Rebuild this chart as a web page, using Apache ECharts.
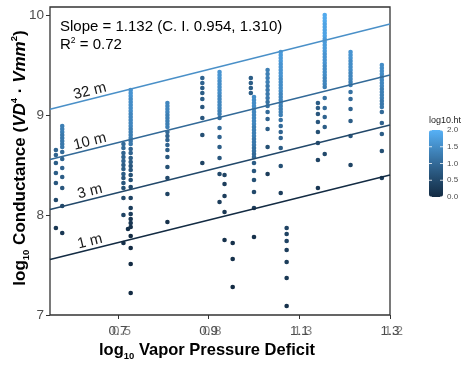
<!DOCTYPE html>
<html>
<head>
<meta charset="utf-8">
<script src="https://cdn.jsdelivr.net/npm/echarts@6/dist/echarts.min.js"></script>
<style>
  html, body { margin: 0; padding: 0; background: #fff; }
  #chart { width: 461px; height: 370px; }
</style>
</head>
<body>
<div id="chart"></div>
<script>
// axis ticks
const xTicks = [0.7, 0.9, 1.1, 1.3];
const xTickLabels = ['0.7', '0.9', '1.1', '1.3'];
const xTickLabelsUnder = ['0.5', '0.8', '1.3', '1.2'];
const yTicks = [7, 8, 9, 10];
const legendTicks = ['0.0', '0.5', '1.0', '1.5', '2.0'];

// one entry per column of trees: x (log10 VPD), y (log10 conductance), h (log10.ht)
const colX = [0.563, 0.577, 0.712, 0.728, 0.722, 0.809, 0.886, 0.924, 0.935, 0.953,
  0.993, 1.0, 1.030, 1.059, 1.072, 1.141, 1.156, 1.213, 1.282];
const colY = [
  [8.65, 8.60, 8.52, 8.42, 8.32, 8.15, 7.87],
  [8.89, 8.86, 8.83, 8.80, 8.77, 8.74, 8.71, 8.68, 8.63, 8.56, 8.47, 8.38, 8.27, 8.09, 7.82],
  [8.71, 8.67, 8.62, 8.58, 8.54, 8.50, 8.46, 8.41, 8.37, 8.32, 8.27, 8.17, 8.00, 7.72],
  [9.25, 9.22, 9.19, 9.16, 9.13, 9.10, 9.07, 9.04, 9.01, 8.98, 8.95, 8.92, 8.89, 8.86, 8.83, 8.80, 8.77, 8.74, 8.71,
   8.66, 8.62, 8.57, 8.53, 8.49, 8.45, 8.40, 8.35, 8.28, 8.17, 8.07, 8.01, 7.96, 7.92, 7.88, 7.79, 7.67, 7.51, 7.22],
  [7.86],
  [9.12, 9.09, 9.06, 9.03, 9.00, 8.97, 8.94, 8.91, 8.88, 8.83, 8.79, 8.75, 8.70, 8.65, 8.58, 8.48, 8.37, 8.21, 7.93],
  [9.37, 9.32, 9.27, 9.22, 9.16, 9.08, 8.97, 8.80, 8.52],
  [9.43, 9.40, 9.37, 9.34, 9.31, 9.28, 9.25, 9.22, 9.19, 9.16, 9.13, 9.10, 9.07, 9.04, 9.01,
   8.97, 8.87, 8.78, 8.68, 8.57, 8.41, 8.13],
  [8.40, 8.31, 8.19, 8.03, 7.75],
  [7.72, 7.56, 7.28],
  [9.37, 9.32, 9.27, 9.22],
  [9.18, 9.15, 9.12, 9.09, 9.06, 9.03, 9.00, 8.97, 8.94, 8.91, 8.88, 8.85, 8.82, 8.79, 8.76, 8.73, 8.70, 8.67, 8.64, 8.61, 8.58,
   8.52, 8.44, 8.35, 8.23, 8.07, 7.78],
  [9.45, 9.41, 9.37, 9.33, 9.29, 9.25, 9.21, 9.17, 9.13, 9.09, 9.03, 8.96, 8.86, 8.68, 8.41],
  [9.63, 9.60, 9.57, 9.54, 9.51, 9.48, 9.45, 9.42, 9.39, 9.36, 9.33, 9.30, 9.27, 9.24, 9.21, 9.18, 9.15, 9.12, 9.09, 9.06, 9.03, 9.00,
   8.95, 8.89, 8.83, 8.77, 8.67, 8.49, 8.22],
  [7.87, 7.81, 7.74, 7.65, 7.53, 7.37, 7.09],
  [9.12, 9.07, 9.01, 8.93, 8.83, 8.72, 8.55, 8.27],
  [10.00, 9.97, 9.94, 9.91, 9.88, 9.85, 9.82, 9.79, 9.76, 9.73, 9.70, 9.67, 9.64, 9.61, 9.58, 9.55, 9.52, 9.49, 9.46, 9.43,
   9.40, 9.37, 9.34, 9.31, 9.28, 9.17, 9.07, 8.98, 8.88, 8.61],
  [9.63, 9.60, 9.57, 9.54, 9.51, 9.48, 9.45, 9.42, 9.39, 9.36, 9.33, 9.30, 9.23, 9.16, 9.06, 8.94, 8.79, 8.50],
  [9.50, 9.47, 9.44, 9.41, 9.38, 9.35, 9.32, 9.29, 9.26, 9.23, 9.20, 9.17, 9.14, 9.11, 9.08, 9.03, 8.92, 8.81, 8.64, 8.37]
];
const colH = [
  [0.9, 0.9, 0.8, 0.8, 0.7, 0.5, 0.2],
  [1.3, 1.3, 1.3, 1.2, 1.2, 1.2, 1.2, 1.2, 1.0, 0.9, 0.9, 0.8, 0.7, 0.5, 0.2],
  [1.0, 1.0, 0.9, 0.9, 0.9, 0.8, 0.8, 0.8, 0.7, 0.7, 0.6, 0.5, 0.4, 0.1],
  [1.6, 1.6, 1.6, 1.5, 1.5, 1.5, 1.5, 1.5, 1.4, 1.4, 1.4, 1.4, 1.4, 1.3, 1.3, 1.3, 1.3, 1.2, 1.2,
   0.9, 0.9, 0.8, 0.8, 0.7, 0.7, 0.6, 0.6, 0.5, 0.4, 0.3, 0.3, 0.2, 0.2, 0.1, 0.0, 0.0, 0.0, 0.0],
  [0.1],
  [1.4, 1.4, 1.4, 1.4, 1.3, 1.3, 1.3, 1.3, 1.3, 1.0, 0.9, 0.9, 0.9, 0.8, 0.7, 0.6, 0.5, 0.4, 0.1],
  [0.9, 0.9, 0.8, 0.8, 0.8, 0.7, 0.7, 0.6, 0.4],
  [1.6, 1.6, 1.6, 1.5, 1.5, 1.5, 1.5, 1.5, 1.4, 1.4, 1.4, 1.4, 1.4, 1.3, 1.3,
   1.1, 1.0, 0.9, 0.8, 0.7, 0.5, 0.3],
  [0.4, 0.3, 0.3, 0.2, 0.1],
  [0.1, 0.1, 0.0],
  [0.8, 0.8, 0.8, 0.8],
  [1.5, 1.5, 1.5, 1.5, 1.5, 1.4, 1.4, 1.4, 1.4, 1.4, 1.3, 1.3, 1.3, 1.3, 1.2, 1.2, 1.2, 1.1, 1.1, 1.0, 1.0,
   0.8, 0.7, 0.6, 0.5, 0.3, 0.1],
  [1.3, 1.3, 1.3, 1.3, 1.2, 1.2, 1.2, 1.2, 1.1, 1.1, 1.0, 0.9, 0.8, 0.6, 0.3],
  [1.7, 1.7, 1.7, 1.7, 1.6, 1.6, 1.6, 1.6, 1.6, 1.5, 1.5, 1.5, 1.5, 1.5, 1.4, 1.4, 1.4, 1.4, 1.3, 1.3, 1.3, 1.3,
   1.1, 1.0, 0.9, 0.9, 0.8, 0.6, 0.3],
  [0.4, 0.4, 0.4, 0.3, 0.3, 0.2, 0.1],
  [0.8, 0.8, 0.7, 0.7, 0.6, 0.5, 0.4, 0.2],
  [1.9, 1.9, 1.9, 1.8, 1.8, 1.8, 1.8, 1.8, 1.7, 1.7, 1.7, 1.7, 1.7, 1.6, 1.6, 1.6, 1.6, 1.5, 1.5, 1.5,
   1.5, 1.4, 1.4, 1.4, 1.3, 1.1, 1.0, 0.9, 0.8, 0.5],
  [1.6, 1.6, 1.6, 1.5, 1.5, 1.5, 1.5, 1.4, 1.4, 1.4, 1.3, 1.3, 1.1, 1.0, 0.9, 0.8, 0.7, 0.4],
  [1.5, 1.5, 1.5, 1.5, 1.4, 1.4, 1.4, 1.4, 1.3, 1.3, 1.3, 1.3, 1.2, 1.2, 1.2, 1.0, 0.9, 0.8, 0.6, 0.3]
];

// fitted lines for fixed tree heights
const fitNames = ['1 m', '3 m', '10 m', '32 m'];
const fitX = [0.55, 1.30];
const fitLeft = [7.555, 8.055, 8.555, 9.058];
const fitRight = [8.40, 8.90, 9.40, 9.91];
const fitColors = ['#132B43', '#22486A', '#336A98', '#4A90C8'];

const slopeText = 'Slope = 1.132 (C. I. 0.954, 1.310)';
const r2Text = '0.72';

const palette = ['#132B43', '#22496B', '#336A98', '#448DC7', '#56B1F7'];
const font = '"Liberation Sans", Arial, Helvetica, sans-serif';

const points = [];
colX.forEach((x, i) => {
  colY[i].forEach((y, j) => points.push([x, y, colH[i][j]]));
});

const chart = echarts.init(document.getElementById('chart'));

const lineSeries = fitNames.map((name, k) => ({
  type: 'line',
  name: name,
  data: [[fitX[0], fitLeft[k]], [fitX[1], fitRight[k]]],
  showSymbol: false,
  symbol: 'none',
  silent: true,
  z: 3,
  lineStyle: { color: fitColors[k], width: 1.5 }
}));

const xLabelBase = {
  fontSize: 13.5,
  fontFamily: font,
  color: '#4d4d4d',
  margin: 9,
  customValues: xTicks
};

chart.setOption({
  animation: false,
  textStyle: { fontFamily: font },
  grid: {
    left: 50, right: 71, top: 7, bottom: 55,
    show: true, borderColor: '#333', borderWidth: 1.3, backgroundColor: 'transparent'
  },
  xAxis: [{
    type: 'value', min: 0.55, max: 1.30,
    axisLine: { show: false },
    splitLine: { show: false },
    axisTick: { show: true, length: 4, lineStyle: { color: '#333' }, customValues: xTicks },
    axisLabel: Object.assign({}, xLabelBase, {
      formatter: v => xTickLabels[xTicks.findIndex(t => Math.abs(t - v) < 1e-6)]
    })
  }, {
    type: 'value', min: 0.55, max: 1.30, position: 'bottom', gridIndex: 0,
    axisLine: { show: false }, splitLine: { show: false }, axisTick: { show: false },
    axisLabel: Object.assign({}, xLabelBase, {
      color: 'rgba(77,77,77,0.7)',
      padding: [0, 0, 0, 7],
      formatter: v => xTickLabelsUnder[xTicks.findIndex(t => Math.abs(t - v) < 1e-6)]
    })
  }],
  yAxis: {
    type: 'value', min: 7, max: 10.08,
    axisLine: { show: false },
    splitLine: { show: false },
    axisTick: { show: true, length: 4, lineStyle: { color: '#333' }, customValues: yTicks },
    axisLabel: {
      fontSize: 13.5, fontFamily: font, color: '#4d4d4d', margin: 6,
      customValues: yTicks, formatter: v => String(Math.round(v))
    }
  },
  visualMap: {
    type: 'continuous',
    min: 0, max: 2,
    dimension: 2,
    seriesIndex: 0,
    calculable: false,
    hoverLink: false,
    left: 429, top: 130,
    padding: 0,
    itemWidth: 14, itemHeight: 67,
    inRange: { color: palette }
  },
  series: [{
    type: 'scatter',
    data: points,
    symbolSize: 4.6,
    silent: true,
    z: 2,
    itemStyle: { opacity: 1 }
  }].concat(lineSeries)
});

// texts and line labels
const sub = { fontSize: 9.5, fontWeight: 'bold', fontFamily: font, lineHeight: 10, verticalAlign: 'bottom', fill: '#000' };
const sup = { fontSize: 9.5, fontWeight: 'bold', fontFamily: font, lineHeight: 10, verticalAlign: 'top', fill: '#000' };
const big = { fontSize: 17, fontWeight: 'bold', fontFamily: font, lineHeight: 22, fill: '#000' };
const bigIt = Object.assign({}, big, { fontStyle: 'italic' });

const graphics = [
  {
    type: 'text', x: 20, y: 158, rotation: Math.PI / 2,
    style: {
      text: '{b|log}{s|10}{b| Conductance (}{i|VD}{p|4}{b| · }{i|Vmm}{p|2}{b|)}',
      rich: { b: big, i: bigIt, s: sub, p: sup },
      align: 'center', verticalAlign: 'middle'
    }
  },
  {
    type: 'text', x: 207, y: 350,
    style: {
      text: '{b|log}{s|10}{b| Vapor Pressure Deficit}',
      rich: { b: Object.assign({}, big, { fontSize: 16.5 }), s: sub },
      align: 'center', verticalAlign: 'middle'
    }
  },
  {
    type: 'text', x: 60, y: 27,
    style: { text: slopeText, font: '15px ' + font, fill: '#000', align: 'left', verticalAlign: 'middle' }
  },
  {
    type: 'text', x: 60, y: 45,
    style: {
      text: '{n|R}{p|2}{n| = ' + r2Text + '}',
      rich: {
        n: { fontSize: 15, fontFamily: font, lineHeight: 18, fill: '#000' },
        p: { fontSize: 8.5, fontFamily: font, lineHeight: 9, verticalAlign: 'top', fill: '#000' }
      },
      align: 'left', verticalAlign: 'middle'
    }
  },
  {
    type: 'text', x: 445, y: 121,
    style: { text: 'log10.ht', font: '9px ' + font, fill: '#222', align: 'center', verticalAlign: 'middle' }
  }
];

// colour bar tick labels and white ticks
const barTop = 130, barH = 67, barLeft = 429, barW = 14;
legendTicks.forEach((t, i) => {
  const y = barTop + barH - barH * i / (legendTicks.length - 1);
  graphics.push({
    type: 'text', x: 447, y: y,
    style: { text: t, font: '8px ' + font, fill: '#4d4d4d', align: 'left', verticalAlign: 'middle' }
  });
  graphics.push({
    type: 'line', shape: { x1: barLeft, y1: y, x2: barLeft + 3, y2: y },
    style: { stroke: '#fff', lineWidth: 0.8 }, z: 100
  });
  graphics.push({
    type: 'line', shape: { x1: barLeft + barW - 3, y1: y, x2: barLeft + barW, y2: y },
    style: { stroke: '#fff', lineWidth: 0.8 }, z: 100
  });
});

// height labels along each fitted line
const labelX = 0.638;
fitNames.forEach((name, k) => {
  const p0 = chart.convertToPixel({ gridIndex: 0 }, [fitX[0], fitLeft[k]]);
  const p1 = chart.convertToPixel({ gridIndex: 0 }, [fitX[1], fitRight[k]]);
  const angle = Math.atan2(p0[1] - p1[1], p1[0] - p0[0]);
  const t = (labelX - fitX[0]) / (fitX[1] - fitX[0]);
  const px = p0[0] + (p1[0] - p0[0]) * t;
  const py = p0[1] + (p1[1] - p0[1]) * t;
  graphics.push({
    type: 'text', x: px, y: py - 8, rotation: angle,
    style: { text: name, font: '15px ' + font, fill: '#1a1a1a', align: 'center', verticalAlign: 'middle' },
    z: 10
  });
});

chart.setOption({ graphic: graphics });
</script>
</body>
</html>
